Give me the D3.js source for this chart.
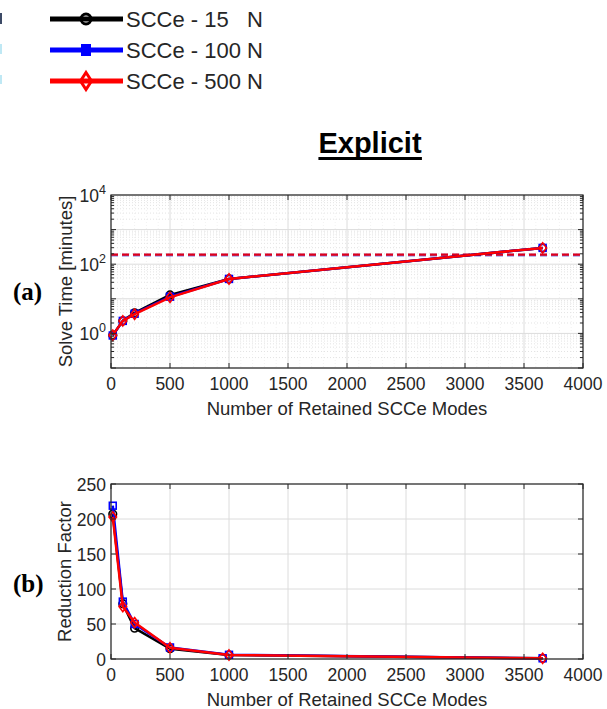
<!DOCTYPE html>
<html><head><meta charset="utf-8">
<script src="https://cdn.jsdelivr.net/npm/d3@7"></script>
<style>body{margin:0;background:#fff}svg{display:block}</style>
</head><body>
<svg id="c" width="607" height="709" font-family="Arial, 'Liberation Sans', sans-serif"></svg>
<script>
// ---- data ----
const modes = [15, 100, 200, 500, 1000, 3658];
const seriesNames = ["SCCe - 15   N", "SCCe - 100 N", "SCCe - 500 N"];
const seriesColors = ["#000000", "#0000ff", "#ff0000"];
const seriesMarkers = ["circle", "square", "diamond"];
// Solve time [minutes]
const time15 = [0.89, 2.3, 3.95, 12.9, 37.5, 296];
const time100 = [0.87, 2.3, 3.7, 11.5, 37.5, 296];
const time500 = [0.89, 2.3, 3.6, 11.0, 37.5, 296];
const fullModelTime = 190;
// Reduction factor
const rf15 = [207, 79, 44, 14.7, 5.7, 0.9];
const rf100 = [219, 82, 50, 16.5, 6.0, 1.0];
const rf500 = [203, 75, 52, 16, 5.7, 0.9];
const xTicks = [0, 500, 1000, 1500, 2000, 2500, 3000, 3500, 4000];
const yTicksLog = [1, 100, 10000];
const yTicksLin = [0, 50, 100, 150, 200, 250];

const svg = d3.select("#c");
const L = 111, R = 583;
const txtCol = "#262626";
const TICK_FS = 17.5, LAB_FS = 18.5;

function marker(g, type, color, x, y, s, sw) {
  if (type === "circle") g.append("circle").attr("cx", x).attr("cy", y).attr("r", s).attr("fill", "none").attr("stroke", color).attr("stroke-width", sw);
  else if (type === "square") g.append("rect").attr("x", x - s * 0.9).attr("y", y - s * 0.9).attr("width", 1.8 * s).attr("height", 1.8 * s).attr("fill", "none").attr("stroke", color).attr("stroke-width", sw);
  else g.append("path").attr("d", `M${x},${y - s * 1.35}L${x + s},${y}L${x},${y + s * 1.35}L${x - s},${y}Z`).attr("fill", "none").attr("stroke", color).attr("stroke-width", sw);
}

function panel(top, bottom, yScale, yLog, data, dashed) {
  const x = d3.scaleLinear().domain([0, 4000]).range([L, R]);
  const g = svg.append("g");
  if (yLog) {
    const minors = [];
    for (let e = -1; e < 4; e++) for (let m = 2; m <= 9; m++) minors.push(m * Math.pow(10, e));
    g.selectAll(".ymin").data(minors).join("line")
      .attr("x1", L).attr("x2", R).attr("y1", d => yScale(d)).attr("y2", d => yScale(d))
      .attr("stroke", "#d0d0d0").attr("stroke-width", 0.6).attr("stroke-dasharray", "1,2");
    const xmin = d3.range(100, 4000, 100).filter(v => v % 500 !== 0);
    g.selectAll(".xmin").data(xmin).join("line")
      .attr("y1", top).attr("y2", bottom).attr("x1", d => x(d)).attr("x2", d => x(d))
      .attr("stroke", "#e4e4e4").attr("stroke-width", 0.5).attr("stroke-dasharray", "1,2");
  }
  g.selectAll(".xg").data(xTicks).join("line")
    .attr("x1", d => x(d)).attr("x2", d => x(d)).attr("y1", top).attr("y2", bottom)
    .attr("stroke", "#dcdcdc").attr("stroke-width", 1);
  const yt = yLog ? [0.1, 1, 10, 100, 1000, 10000] : yTicksLin;
  g.selectAll(".yg").data(yt).join("line")
    .attr("x1", L).attr("x2", R).attr("y1", d => yScale(d)).attr("y2", d => yScale(d))
    .attr("stroke", "#dcdcdc").attr("stroke-width", 1);

  if (dashed !== undefined) {
    g.append("line").attr("x1", L).attr("x2", R).attr("y1", yScale(dashed) + 0.6).attr("y2", yScale(dashed) + 0.6)
      .attr("stroke", "#7a7ae0").attr("stroke-width", 2.6).attr("stroke-dasharray", "7,4");
    g.append("line").attr("x1", L).attr("x2", R).attr("y1", yScale(dashed)).attr("y2", yScale(dashed))
      .attr("stroke", "#e0001b").attr("stroke-width", 2.2).attr("stroke-dasharray", "7,4");
  }

  const line = d3.line().x((d, i) => x(modes[i])).y(d => yScale(d));
  data.forEach((vals, k) => {
    g.append("path").attr("d", line(vals)).attr("fill", "none")
      .attr("stroke", seriesColors[k]).attr("stroke-width", 2.5).attr("stroke-linejoin", "round");
    vals.forEach((v, i) => marker(g, seriesMarkers[k], seriesColors[k], x(modes[i]), yScale(v), 3.8, 1.6));
  });

  g.append("rect").attr("x", L).attr("y", top).attr("width", R - L).attr("height", bottom - top)
    .attr("fill", "none").attr("stroke", "#262626").attr("stroke-width", 1.2);
  xTicks.forEach(t => {
    g.append("line").attr("x1", x(t)).attr("x2", x(t)).attr("y1", bottom).attr("y2", bottom - 5).attr("stroke", "#262626");
    g.append("line").attr("x1", x(t)).attr("x2", x(t)).attr("y1", top).attr("y2", top + 5).attr("stroke", "#262626");
    g.append("text").attr("x", x(t)).attr("y", bottom + 21.5).attr("text-anchor", "middle")
      .attr("font-size", TICK_FS).attr("fill", txtCol).text(t);
  });
  g.append("text").attr("x", (L + R) / 2).attr("y", bottom + 47).attr("text-anchor", "middle")
    .attr("font-size", LAB_FS).attr("fill", txtCol).text("Number of Retained SCCe Modes");
  return { g, x };
}

// ---- top panel ----
const yTop = d3.scaleLog().domain([0.1, 10000]).range([368, 195]);
const p1 = panel(195, 368, yTop, true, [time15, time100, time500], fullModelTime);
for (let e = -1; e < 4; e++) for (let m = 1; m <= 9; m++) {
  const v = m * Math.pow(10, e); const yy = yTop(v); const len = m === 1 ? 5 : 3;
  p1.g.append("line").attr("x1", L).attr("x2", L + len).attr("y1", yy).attr("y2", yy).attr("stroke", "#262626");
  p1.g.append("line").attr("x1", R).attr("x2", R - len).attr("y1", yy).attr("y2", yy).attr("stroke", "#262626");
}
yTicksLog.forEach(v => {
  const t = p1.g.append("text").attr("x", 106).attr("y", yTop(v) + 7).attr("text-anchor", "end")
    .attr("font-size", TICK_FS).attr("fill", txtCol);
  t.append("tspan").text("10");
  t.append("tspan").attr("dy", -8).attr("font-size", 12.5).text(Math.round(Math.log10(v)));
});
p1.g.append("text").attr("transform", `translate(72,${(195 + 368) / 2}) rotate(-90)`).attr("text-anchor", "middle")
  .attr("font-size", LAB_FS).attr("fill", txtCol).text("Solve Time [minutes]");

// ---- bottom panel ----
const yBot = d3.scaleLinear().domain([0, 250]).range([659, 484]);
const p2 = panel(484, 659, yBot, false, [rf15, rf100, rf500]);
yTicksLin.forEach(v => {
  const yy = yBot(v);
  p2.g.append("line").attr("x1", L).attr("x2", L + 5).attr("y1", yy).attr("y2", yy).attr("stroke", "#262626");
  p2.g.append("line").attr("x1", R).attr("x2", R - 5).attr("y1", yy).attr("y2", yy).attr("stroke", "#262626");
  p2.g.append("text").attr("x", 106).attr("y", yy + 6.5).attr("text-anchor", "end")
    .attr("font-size", TICK_FS).attr("fill", txtCol).text(v);
});
p2.g.append("text").attr("transform", `translate(71,${(484 + 659) / 2}) rotate(-90)`).attr("text-anchor", "middle")
  .attr("font-size", LAB_FS).attr("fill", txtCol).text("Reduction Factor");

// panel labels
svg.append("text").attr("x", 13).attr("y", 300).attr("font-family", "'Liberation Serif', 'Times New Roman', serif")
  .attr("font-weight", "bold").attr("font-size", 25).attr("fill", "#000").text("(a)");
svg.append("text").attr("x", 13).attr("y", 592).attr("font-family", "'Liberation Serif', 'Times New Roman', serif")
  .attr("font-weight", "bold").attr("font-size", 25).attr("fill", "#000").text("(b)");

// title
const title = svg.append("text").attr("x", 370).attr("y", 153).attr("text-anchor", "middle")
  .attr("font-weight", "bold").attr("font-size", 29).attr("fill", "#000").text("Explicit");
const tb = title.node().getBBox();
svg.append("rect").attr("x", tb.x).attr("y", 157).attr("width", tb.width).attr("height", 3).attr("fill", "#000");

// legend
const leg = svg.append("g");
leg.append("rect").attr("x", 0).attr("y", 13).attr("width", 2).attr("height", 11).attr("fill", "#3c4a66");
leg.append("rect").attr("x", 0).attr("y", 44).attr("width", 2).attr("height", 10).attr("fill", "#bfe8f4");
leg.append("rect").attr("x", 0).attr("y", 75).attr("width", 2).attr("height", 9).attr("fill", "#bfe8f4");
seriesNames.forEach((n, k) => {
  const yy = 19 + k * 31;
  leg.append("line").attr("x1", 50).attr("x2", 123).attr("y1", yy).attr("y2", yy)
    .attr("stroke", seriesColors[k]).attr("stroke-width", 5);
  if (seriesMarkers[k] === "circle") leg.append("circle").attr("cx", 86).attr("cy", yy).attr("r", 5).attr("fill", "none").attr("stroke", "#000").attr("stroke-width", 3);
  else if (seriesMarkers[k] === "square") leg.append("rect").attr("x", 81).attr("y", yy - 6).attr("width", 10).attr("height", 12).attr("fill", "#0000ff");
  else leg.append("path").attr("d", `M86,${yy - 8.5}L91.5,${yy}L86,${yy + 8.5}L80.5,${yy}Z`).attr("fill", "none").attr("stroke", "#ff0000").attr("stroke-width", 3);
  leg.append("text").attr("x", 126).attr("y", yy + 8).attr("font-size", 22).attr("fill", txtCol)
    .attr("xml:space", "preserve").style("white-space", "pre").text(n);
});
</script>
</body></html>
